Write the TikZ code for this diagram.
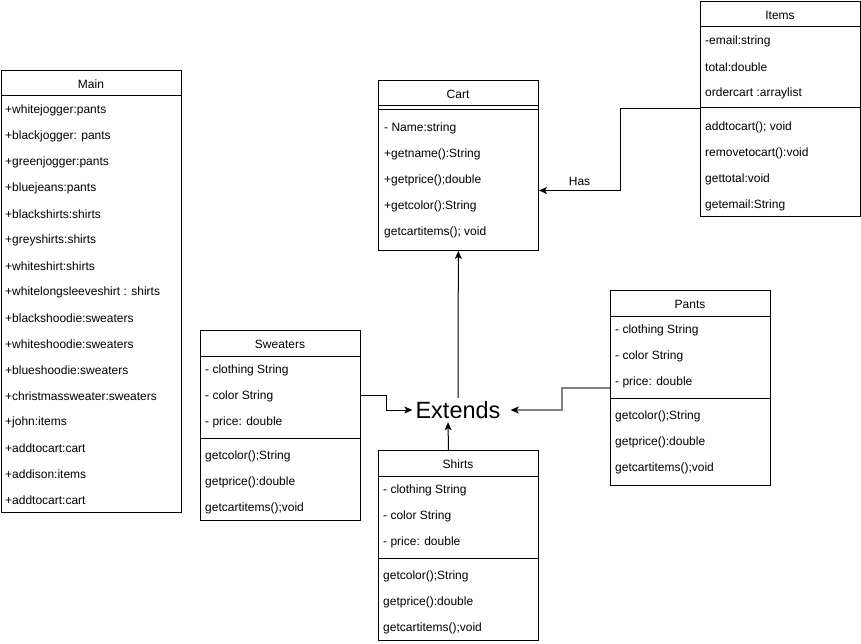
\documentclass[tikz,border=0pt]{standalone}
\usepackage{fontspec}
\setmainfont{Liberation Sans}
\usetikzlibrary{arrows.meta,calc}
\tikzset{
  box/.style={draw=black, line width=1pt, anchor=north west, inner sep=0pt, fill=white},
  rowtext/.style={anchor=west, inner sep=0pt, yshift=-1pt, font=\fontsize{12}{14}\selectfont},
  hdrtext/.style={anchor=center, inner sep=0pt, yshift=-1pt, font=\fontsize{12}{14}\selectfont},
  sep/.style={draw=black, line width=1pt},
  conn/.style={draw=black, line width=1pt, -{Stealth[length=8pt,width=7pt,inset=2pt]}},
  grayline/.style={draw=black!50, line width=1.3pt},
}
\begin{document}
\begin{tikzpicture}[x=1pt,y=-1pt]
\useasboundingbox (0,0) rectangle (861,644);

% ---------- Main ----------
\node[box, minimum width=180pt, minimum height=442pt] (main) at (1,70) {};
\node[hdrtext] (mainT) at (91,83) {Main};
\draw[sep] (1,96) -- (181,96);
\foreach \t [count=\i from 0] in {+whitejogger:pants,+blackjogger: pants,+greenjogger:pants,+bluejeans:pants,+blackshirts:shirts,+greyshirts:shirts,+whiteshirt:shirts,+whitelongsleeveshirt : shirts,+blackshoodie:sweaters,+whiteshoodie:sweaters,+blueshoodie:sweaters,+christmassweater:sweaters,+john:items,+addtocart:cart,+addison:items,+addtocart:cart}
  \node[rowtext] (main\i) at (5,109+26*\i) {\t};

% ---------- Cart ----------
\node[box, minimum width=160pt, minimum height=170pt] (cart) at (378,80) {};
\node[hdrtext] (cartT) at (458,93) {Cart};
\draw[sep] (378,106) -- (538,106);
\draw[sep] (378,110) -- (538,110);
\foreach \t [count=\i from 0] in {- Name:string,+getname():String,+getprice();double,+getcolor():String,getcartitems(); void}
  \node[rowtext] (cart\i) at (384,127+26*\i) {\t};

% ---------- Items ----------
\node[box, minimum width=160pt, minimum height=215pt] (items) at (700,1) {};
\node[hdrtext] (itemsT) at (780,14) {Items};
\draw[sep] (700,27) -- (860,27);
\draw[sep] (700,108) -- (860,108);
\foreach \t [count=\i from 0] in {-email:string,total:double,ordercart :arraylist}
  \node[rowtext] (itemsA\i) at (705,40+26*\i) {\t};
\foreach \t [count=\i from 0] in {addtocart(); void,removetocart():void,gettotal:void,getemail:String}
  \node[rowtext] (itemsM\i) at (705,126+26*\i) {\t};

% ---------- Sweaters ----------
\node[box, minimum width=160pt, minimum height=190pt] (sweaters) at (200,330) {};
\node[hdrtext] (sweatersT) at (280,343) {Sweaters};
\draw[sep] (200,356) -- (360,356);
\draw[sep] (200,438) -- (360,438);
\foreach \t [count=\i from 0] in {- clothing String,- color String,- price: double}
  \node[rowtext] (swA\i) at (205,369+26*\i) {\t};
\foreach \t [count=\i from 0] in {getcolor();String,getprice():double,getcartitems();void}
  \node[rowtext] (swM\i) at (205,455+26*\i) {\t};

% ---------- Pants ----------
\node[box, minimum width=160pt, minimum height=195pt] (pants) at (610,290) {};
\node[hdrtext] (pantsT) at (690,303) {Pants};
\draw[sep] (610,316) -- (770,316);
\draw[sep] (610,398) -- (770,398);
\foreach \t [count=\i from 0] in {- clothing String,- color String,- price: double}
  \node[rowtext] (paA\i) at (615,329+26*\i) {\t};
\foreach \t [count=\i from 0] in {getcolor();String,getprice():double,getcartitems();void}
  \node[rowtext] (paM\i) at (615,415+26*\i) {\t};

% ---------- Shirts ----------
\node[box, minimum width=160pt, minimum height=190pt] (shirts) at (378,450) {};
\node[hdrtext] (shirtsT) at (458,463) {Shirts};
\draw[sep] (378,476) -- (538,476);
\draw[sep] (378,558) -- (538,558);
\foreach \t [count=\i from 0] in {- clothing String,- color String,- price: double}
  \node[rowtext] (shA\i) at (383,489+26*\i) {\t};
\foreach \t [count=\i from 0] in {getcolor();String,getprice():double,getcartitems();void}
  \node[rowtext] (shM\i) at (383,575+26*\i) {\t};

% ---------- Extends ----------
\node[inner xsep=3pt, inner ysep=0pt, minimum height=24pt, font=\fontsize{23.5}{26}\selectfont] (ext) at (458,410) {Extends};

% ---------- Connectors ----------
\draw[conn] (items.west) -- ++(-80,0) |- ([yshift=-25pt]cart.east) node[pos=0.75, above=1pt, font=\fontsize{12}{14}\selectfont] (has) {Has};
\draw[conn] (ext) -- (cart);
\draw[conn] ([xshift=-10pt]shirts.north) -- ([xshift=-10pt]ext.south);
\draw[conn] ([yshift=30pt]sweaters.east) -- ++(25,0) |- (ext.west);
\draw[grayline] (pants.west) -- ++(-48,0) |- ([xshift=8pt]ext.east);
\draw[conn] ([xshift=9pt]ext.east) -- ([xshift=7pt]ext.east);
\end{tikzpicture}
\end{document}
